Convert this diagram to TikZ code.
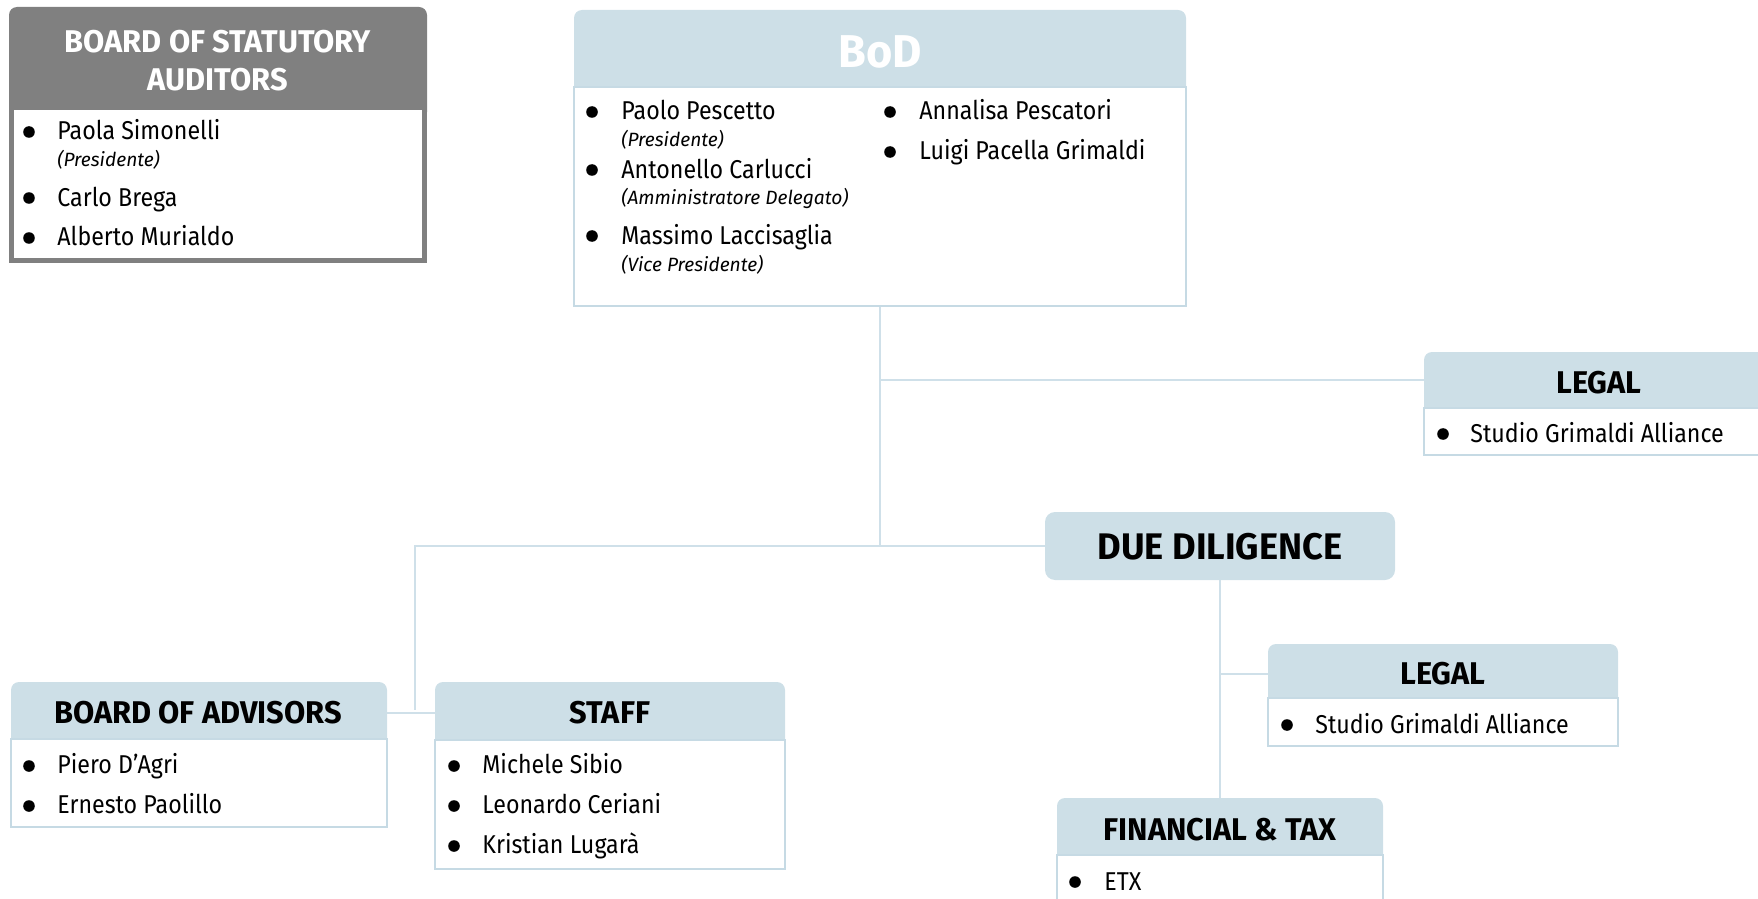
\documentclass[tikz,border=0pt]{standalone}
\usepackage{fontspec}
\setmainfont{Fira Sans}[FakeStretch=0.9]
\newfontfamily\hdfont{Fira Sans}[FakeStretch=0.98]
\newfontfamily\itfont{Fira Sans}[FakeStretch=1.0]
\usetikzlibrary{fit}
\definecolor{hdrblue}{HTML}{CDDFE7}
\definecolor{lineblue}{HTML}{CFE0E9}
\definecolor{bodyline}{HTML}{C6DAE4}
\definecolor{sgray}{HTML}{808080}
\tikzset{
  hdr/.style={fill=hdrblue, draw=none, rounded corners=4pt, inner sep=0pt},
  body/.style={fill=white, draw=bodyline, line width=0.7pt, inner sep=0pt},
  ttl/.style={font=\hdfont\fontsize{15.7}{18}\selectfont\bfseries, text=black, inner sep=0pt},
  itm/.style={font=\fontsize{12.9}{15}\selectfont, anchor=base west, inner sep=0pt},
  sub/.style={font=\itfont\fontsize{9.6}{11}\selectfont\itshape, anchor=base west, inner sep=0pt},
  bul/.style={circle, fill=black, inner sep=0pt, minimum size=5.8pt},
  conn/.style={draw=lineblue, line width=0.8pt},
}
\begin{document}
\begin{tikzpicture}[x=0.5pt,y=-0.5pt]
\useasboundingbox (0,0) rectangle (1758,899);

% ---------- Board of statutory auditors
\node[hdr, fill=sgray, fit={(9,7) (427,120)}] (saH) {};
\node[body, draw=sgray, line width=2.5pt, fit={(11.5,108) (424.5,260.5)}] (saB) {};
\node[ttl, text=white] (saT1) at (218,42) {BOARD OF STATUTORY};
\node[ttl, text=white] (saT2) at (218,80) {AUDITORS};
\node[bul] (saD1) at (29,132) {};
\node[itm] (saI1) at (57,140) {Paola Simonelli};
\node[sub] (saS1) at (57,167) {(Presidente)};
\node[bul] (saD2) at (29,198) {};
\node[itm] (saI2) at (57,206) {Carlo Brega};
\node[bul] (saD3) at (29,238) {};
\node[itm] (saI3) at (57,246) {Alberto Murialdo};

% ---------- BoD
\node[hdr, fit={(574,10) (1186,97)}] (bodH) {};
\node[body, fit={(574,87) (1186,306)}] (bodB) {};
\node[font=\hdfont\fontsize{23}{27}\selectfont\bfseries, text=white, inner sep=0pt] (bodT) at (880,52) {BoD};
\node[bul] (bdD1) at (592,112) {};
\node[itm] (bdI1) at (621,120) {Paolo Pescetto};
\node[sub] (bdS1) at (621,147) {(Presidente)};
\node[bul] (bdD2) at (592,170) {};
\node[itm] (bdI2) at (621,178) {Antonello Carlucci};
\node[sub] (bdS2) at (621,205) {(Amministratore Delegato)};
\node[bul] (bdD3) at (592,236) {};
\node[itm] (bdI3) at (621,244) {Massimo Laccisaglia};
\node[sub] (bdS3) at (621,271) {(Vice Presidente)};
\node[bul] (bdD4) at (890,112) {};
\node[itm] (bdI4) at (919,120) {Annalisa Pescatori};
\node[bul] (bdD5) at (890,152) {};
\node[itm] (bdI5) at (919,160) {Luigi Pacella Grimaldi};

% ---------- Legal (top)
\node[hdr, fit={(1424,352) (1790,418)}] (l1H) {};
\node[body, fit={(1424,408) (1790,455)}] (l1B) {};
\node[ttl] (l1T) at (1599,383) {LEGAL};
\node[bul] (l1D) at (1443,434) {};
\node[itm] (l1I) at (1470,442) {Studio Grimaldi Alliance};

% ---------- Due diligence
\node[hdr, rounded corners=5pt, fit={(1045,512) (1395,580)}] (dd) {};
\node[font=\hdfont\fontsize{18.5}{22}\selectfont\bfseries, inner sep=0pt] (ddT) at (1220,547) {DUE DILIGENCE};

% ---------- Board of advisors
\node[hdr, fit={(11,682) (387,749)}] (boaH) {};
\node[body, fit={(11,739) (387,827)}] (boaB) {};
\node[ttl] (boaT) at (198,713) {BOARD OF ADVISORS};
\node[bul] (boaD1) at (29,766) {};
\node[itm] (boaI1) at (57,773) {Piero D’Agri};
\node[bul] (boaD2) at (29,806) {};
\node[itm] (boaI2) at (57,813) {Ernesto Paolillo};

% ---------- Staff
\node[hdr, fit={(435,682) (785,750)}] (stH) {};
\node[body, fit={(435,740) (785,869)}] (stB) {};
\node[ttl] (stT) at (610,713) {STAFF};
\node[bul] (stD1) at (454,766) {};
\node[itm] (stI1) at (482,773) {Michele Sibio};
\node[bul] (stD2) at (454,806) {};
\node[itm] (stI2) at (482,813) {Leonardo Ceriani};
\node[bul] (stD3) at (454,846) {};
\node[itm] (stI3) at (482,853) {Kristian Lugarà};

% ---------- Legal (due diligence)
\node[hdr, fit={(1268,644) (1618,708)}] (l2H) {};
\node[body, fit={(1268,698) (1618,746)}] (l2B) {};
\node[ttl] (l2T) at (1443,674) {LEGAL};
\node[bul] (l2D) at (1287,725) {};
\node[itm] (l2I) at (1315,733) {Studio Grimaldi Alliance};

% ---------- Financial & tax
\node[hdr, fit={(1057,798) (1383,865)}] (finH) {};
\node[body, fit={(1057,855) (1383,920)}] (finB) {};
\node[ttl] (finT) at (1220,830) {FINANCIAL \& TAX};
\node[bul] (finD) at (1075,882) {};
\node[itm] (finI) at (1104,890) {ETX};

% ---------- connectors
\coordinate (jb) at (415,710);
\coordinate (jl) at (880,380);
\draw[conn] (bodB.south) -- (bodB.south |- dd.west);
\draw[conn] (jl) -- (jl -| l1H.west);
\draw[conn] (dd.west) -- (dd.west -| jb) -- (jb);
\draw[conn] (boaT -| boaH.east) -- (boaT -| stH.west);
\draw[conn] (dd.south) -- (finH.north);
\draw[conn] (dd.south |- l2T) -- (l2T -| l2H.west);
\end{tikzpicture}
\end{document}
